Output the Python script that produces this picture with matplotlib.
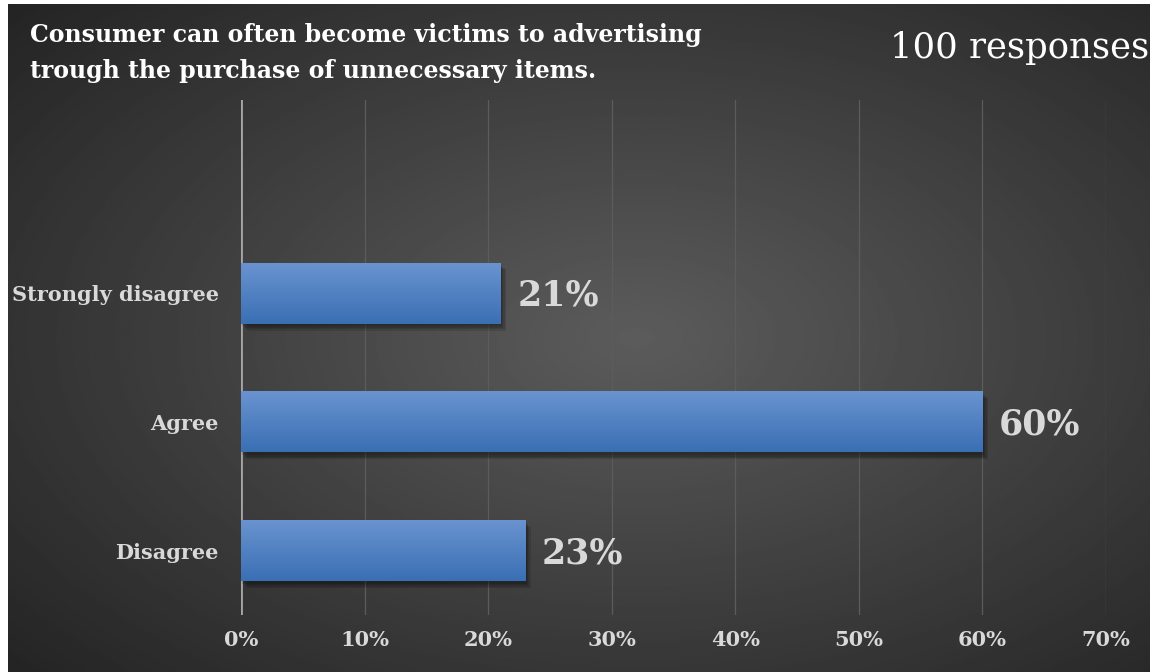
import matplotlib
matplotlib.use("Agg")
import matplotlib.pyplot as plt
import matplotlib.patheffects as pe
from matplotlib.colors import LinearSegmentedColormap
import numpy as np

# survey answers, shares in percent
categories = ["Disagree", "Agree", "Strongly disagree"]
shares = [23, 60, 21]
xticks = [0, 10, 20, 30, 40, 50, 60, 70]
title_lines = ["Consumer can often become victims to advertising",
               "trough the purchase of unnecessary items."]
responses = "100 responses"

txt = "#d9d9d9"
serif = ["DejaVu Serif"]

fig = plt.figure(figsize=(11.5, 6.72), dpi=100, facecolor="white")

# dark radial background
bg = fig.add_axes([8 / 1150, 0, 1 - 8 / 1150, 1 - 4 / 672])
bg.set_axis_off()
yy, xx = np.mgrid[0:1:300j, 0:1:500j]
r = np.sqrt(((xx - 0.55) / 0.75) ** 2 + ((yy - 0.5) / 0.75) ** 2)
shade = np.clip(0.36 - 0.22 * r, 0.14, 0.36)
bg.imshow(shade, cmap="gray", vmin=0, vmax=1, extent=[0, 1, 0, 1], aspect="auto")
bg.set_xlim(0, 1)
bg.set_ylim(0, 1)

ax = fig.add_axes([241 / 1150, 1 - 615 / 672, (1106 - 241) / 1150, 515 / 672])
ax.patch.set_alpha(0)

# soft drop shadow built from a few stacked translucent copies
shadow = [pe.SimplePatchShadow(offset=(d, -d - 1), shadow_rgbFace="black", alpha=0.12)
          for d in (1, 2, 3, 4)]
pos = np.arange(len(categories))
bars = ax.barh(pos, shares, height=0.475, color="#4a7fc1", zorder=3,
               path_effects=shadow + [pe.Normal()])

# vertical blue gradient on each bar
blue = LinearSegmentedColormap.from_list("bl", ["#3a6fb4", "#6a94d0"])
grad = np.linspace(0, 1, 100).reshape(-1, 1)
for b in bars:
    im = ax.imshow(grad, cmap=blue, origin="lower", aspect="auto", zorder=4,
                   extent=[b.get_x(), b.get_x() + b.get_width(), b.get_y(), b.get_y() + b.get_height()])
    im.set_clip_path(b)

for p, v in zip(pos, shares):
    ax.text(v + 1.35, p - 0.02, f"{v}%", va="center", ha="left", color=txt,
            fontsize=25, fontweight="bold", family=serif, zorder=5)

ax.set_xlim(0, 70)
ax.set_ylim(-0.5, 3.5)
ax.set_xticks(xticks)
ax.set_xticklabels([f"{t}%" for t in xticks], color=txt, fontsize=15,
                   fontweight="bold", family=serif)
ax.set_yticks(pos)
ax.set_yticklabels(categories, color=txt, fontsize=15, fontweight="bold", family=serif)
ax.tick_params(length=0, pad=11, axis="x")
ax.tick_params(length=0, pad=16, axis="y")
for s in ax.spines.values():
    s.set_visible(False)
ax.grid(axis="x", color="#5c5c5c", linewidth=0.9, zorder=0)
ax.axvline(0, color="#a6a6a6", linewidth=2, zorder=2)

# two-line heading, each line placed on its own baseline
for line, base in zip(title_lines, [42, 78]):
    fig.text(30 / 1150, 1 - base / 672, line, color="white", fontsize=17,
             fontweight="bold", family=serif, va="baseline", ha="left")
fig.text(1149 / 1150, 1 - 58 / 672, responses, color="white", fontsize=25.5,
         family=serif, va="baseline", ha="right")

fig.savefig("out.png", dpi=100)
